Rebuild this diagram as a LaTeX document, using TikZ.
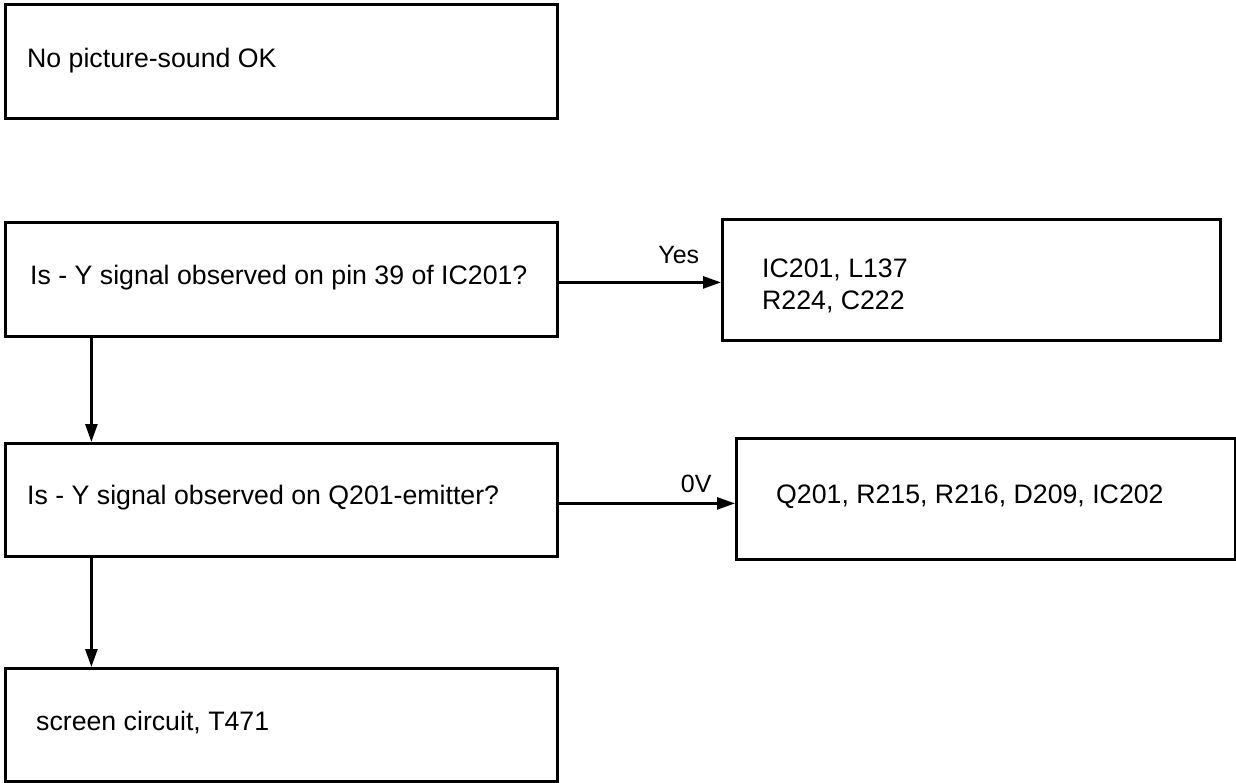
\documentclass[tikz,border=0pt]{standalone}
\usepackage{fontspec}
\setmainfont{Liberation Sans}
\usetikzlibrary{arrows.meta}
\begin{document}
\begin{tikzpicture}[x=1pt,y=-1pt,
  box/.style={draw, line width=2.8pt, inner sep=0pt, anchor=north west},
  lbl/.style={anchor=west, inner sep=0pt, font=\fontsize{26.7}{32}\selectfont, align=left},
  tag/.style={inner sep=0pt, anchor=south, text depth=0pt, font=\fontsize{25}{30}\selectfont},
  link/.style={line width=2.6pt, -{Triangle[length=18pt,width=12pt]}}]
\useasboundingbox (0,0) rectangle (1236,782);

% boxes
\node[box, minimum width=552pt, minimum height=114pt] (b1) at (4,3) {};
\node[box, minimum width=552pt, minimum height=114pt] (b2) at (4,221) {};
\node[box, minimum width=498pt, minimum height=121pt] (b3) at (721,218) {};
\node[box, minimum width=552pt, minimum height=113pt] (b4) at (4,442) {};
\node[box, minimum width=499pt, minimum height=121pt] (b5) at (735,437) {};
\node[box, minimum width=552pt, minimum height=113pt] (b6) at (4,667) {};

% box texts
\node[lbl] (t1) at (27,61) {No picture-sound OK};
\node[lbl] (t2) at (30,278) {Is - Y signal observed on pin 39 of IC201?};
\node[lbl] (t3) at (762,286) {IC201, L137\\R224, C222};
\node[lbl] (t4) at (27,498) {Is - Y signal observed on Q201-emitter?};
\node[lbl] (t5) at (776,497) {Q201, R215, R216, D209, IC202};
\node[lbl] (t6) at (36,723) {screen circuit, T471};

% connectors
\draw[link] ([yshift=-3pt]b2.east) -- ([yshift=-3pt]b2.east -| b3.west)
  node[tag, pos=0.74, above=18pt] (yes) {Yes};
\draw[link] ([yshift=-3.5pt]b4.east) -- ([yshift=-3.5pt]b4.east -| b5.west)
  node[tag, pos=0.78, above=10pt] (zv) {0V};
\draw[link] ([xshift=-190pt]b2.south) -- ([xshift=-190pt]b2.south |- b4.north);
\draw[link] ([xshift=-190pt]b4.south) -- ([xshift=-190pt]b4.south |- b6.north);
\end{tikzpicture}
\end{document}
